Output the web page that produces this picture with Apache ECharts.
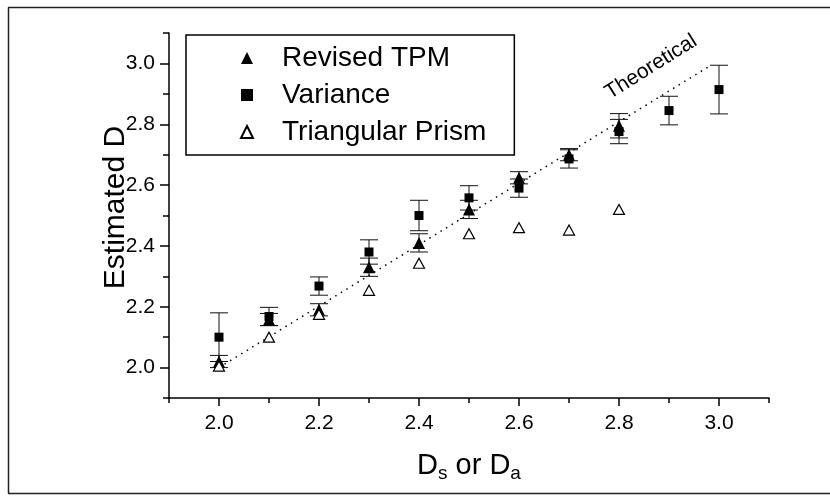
<!DOCTYPE html>
<html>
<head>
<meta charset="utf-8">
<script src="https://cdn.jsdelivr.net/npm/echarts@6/dist/echarts.min.js"></script>
<style>
  html, body { margin: 0; padding: 0; background: #fff; }
  #chart { width: 830px; height: 496px; }
</style>
</head>
<body>
<div id="chart"></div>
<script>
// x positions (D_s or D_a)
const xTpm = [2.0, 2.1, 2.2, 2.3, 2.4, 2.5, 2.6, 2.7, 2.8]
const xVar = [2.0, 2.1, 2.2, 2.3, 2.4, 2.5, 2.6, 2.7, 2.8, 2.9, 3.0]
const xPrism = [2.0, 2.1, 2.2, 2.3, 2.4, 2.5, 2.6, 2.7, 2.8]

// estimated D values and half error bars
const tpmMean = [2.02, 2.158, 2.19, 2.33, 2.41, 2.52, 2.624, 2.70, 2.795]
const tpmErr = [0.02, 0.02, 0.02, 0.03, 0.03, 0.03, 0.02, 0.02, 0.04]
const varMean = [2.10, 2.168, 2.268, 2.38, 2.50, 2.558, 2.59, 2.686, 2.776, 2.845, 2.914]
const varErr = [0.08, 0.03, 0.03, 0.04, 0.05, 0.04, 0.03, 0.03, 0.04, 0.047, 0.08]
const prismMean = [2.005, 2.10, 2.175, 2.254, 2.343, 2.44, 2.46, 2.452, 2.52]

// theoretical line end points
const theoX = [2.0, 2.98]
const theoY = [2.0, 2.99]

// tick labels
const majorTicks = [2.0, 2.2, 2.4, 2.6, 2.8, 3.0]

const FONT = 'Liberation Sans, Arial, sans-serif'

const pairs = (xs, ys) => xs.map((x, i) => [x, ys[i]])
const triples = (xs, ys, es) => xs.map((x, i) => [x, ys[i], es[i]])

// error bar drawing
function renderErrorBar(params, api) {
  const x = api.value(0)
  const m = api.value(1)
  const e = api.value(2)
  const top = api.coord([x, m + e])
  const bot = api.coord([x, m - e])
  const hw = 9
  const style = { stroke: '#111', lineWidth: 1 }
  return {
    type: 'group',
    children: [
      { type: 'line', shape: { x1: top[0], y1: top[1], x2: bot[0], y2: bot[1] }, style },
      { type: 'line', shape: { x1: top[0] - hw, y1: top[1], x2: top[0] + hw, y2: top[1] }, style },
      { type: 'line', shape: { x1: bot[0] - hw, y1: bot[1], x2: bot[0] + hw, y2: bot[1] }, style }
    ]
  }
}

const axisCommon = {
  type: 'value',
  min: 1.9,
  max: 3.1,
  interval: 0.1,
  splitLine: { show: false }
}

const chart = echarts.init(document.getElementById('chart'))

const option = {
  animation: false,
  backgroundColor: '#fff',
  textStyle: { fontFamily: FONT, color: '#000' },
  grid: { left: 169, right: 61, top: 33, bottom: 98 },
  legend: {
    left: 186,
    top: 35,
    orient: 'vertical',
    data: ['Revised TPM', 'Variance', 'Triangular Prism'],
    itemWidth: 12,
    itemHeight: 12,
    itemGap: 7,
    padding: [8, 28, 8, 54],
    borderColor: '#000',
    borderWidth: 1.5,
    borderRadius: 0,
    selectedMode: false,
    formatter: (name) => '{g|}' + name,
    textStyle: {
      fontFamily: FONT,
      fontSize: 28,
      color: '#000',
      lineHeight: 30,
      rich: { g: { width: 24 } }
    }
  },
  xAxis: [
    {
      ...axisCommon,
      position: 'bottom',
      axisLine: { lineStyle: { color: '#000', width: 1.5 } },
      axisTick: { length: 5, lineStyle: { color: '#000', width: 1.5 } },
      axisLabel: { show: false },
      name: '{m|D}{s|s}{m| or D}{s|a}',
      nameLocation: 'middle',
      nameGap: 52,
      nameTextStyle: {
        rich: {
          m: { fontFamily: FONT, fontSize: 29, color: '#000', lineHeight: 32 },
          s: { fontFamily: FONT, fontSize: 19, color: '#000', lineHeight: 19, padding: [15, 0, 0, 0] }
        }
      }
    },
    {
      ...axisCommon,
      position: 'bottom',
      axisLine: { show: false },
      axisTick: { customValues: majorTicks, length: 8, lineStyle: { color: '#000', width: 1.5 } },
      axisLabel: {
        customValues: majorTicks,
        margin: 15,
        fontFamily: FONT,
        fontSize: 21,
        color: '#000',
        formatter: (v) => v.toFixed(1)
      }
    }
  ],
  yAxis: [
    {
      ...axisCommon,
      position: 'left',
      axisLine: { show: true, lineStyle: { color: '#000', width: 1.5 } },
      axisTick: { show: true, length: 6, lineStyle: { color: '#000', width: 1.5 } },
      axisLabel: { show: false },
      name: 'Estimated D',
      nameLocation: 'middle',
      nameGap: 38,
      nameTextStyle: { fontFamily: FONT, fontSize: 30, color: '#000', padding: [0, 0, 0, 16] }
    },
    {
      ...axisCommon,
      position: 'left',
      axisLine: { show: false },
      axisTick: { show: true, customValues: majorTicks, length: 9, lineStyle: { color: '#000', width: 1.5 } },
      axisLabel: {
        customValues: majorTicks,
        margin: 14,
        fontFamily: FONT,
        fontSize: 21,
        color: '#000',
        formatter: (v) => v.toFixed(1)
      }
    }
  ],
  graphic: [
    // outer frame (left, top, bottom)
    { type: 'line', shape: { x1: 8.5, y1: 7.5, x2: 8.5, y2: 493.5 }, style: { stroke: '#222', lineWidth: 1.5 } },
    { type: 'line', shape: { x1: 8, y1: 7.5, x2: 830, y2: 7.5 }, style: { stroke: '#222', lineWidth: 1.5 } },
    { type: 'line', shape: { x1: 8, y1: 493.5, x2: 830, y2: 493.5 }, style: { stroke: '#222', lineWidth: 1.5 } },
    {
      type: 'text',
      x: 651,
      y: 67,
      rotation: 32 * Math.PI / 180,
      style: {
        text: 'Theoretical',
        fontFamily: FONT,
        fontSize: 21,
        fill: '#000',
        align: 'center',
        verticalAlign: 'middle'
      }
    }
  ],
  series: [
    {
      name: 'Theoretical',
      type: 'line',
      data: pairs(theoX, theoY),
      symbol: 'none',
      silent: true,
      lineStyle: { color: '#000', width: 1.5, type: [1.5, 5] },
      z: 1
    },
    {
      name: 'TPM error',
      type: 'custom',
      renderItem: renderErrorBar,
      data: triples(xTpm, tpmMean, tpmErr),
      z: 2
    },
    {
      name: 'Variance error',
      type: 'custom',
      renderItem: renderErrorBar,
      data: triples(xVar, varMean, varErr),
      z: 2
    },
    {
      name: 'Variance',
      type: 'scatter',
      symbol: 'rect',
      symbolSize: 9,
      itemStyle: { color: '#000', opacity: 1 },
      data: pairs(xVar, varMean),
      z: 3
    },
    {
      name: 'Revised TPM',
      type: 'scatter',
      symbol: 'triangle',
      symbolSize: 12,
      itemStyle: { color: '#000', opacity: 1 },
      data: pairs(xTpm, tpmMean),
      z: 4
    },
    {
      name: 'Triangular Prism',
      type: 'scatter',
      symbol: 'triangle',
      symbolSize: [11, 10],
      itemStyle: { color: '#fff', borderColor: '#000', borderWidth: 1.2, opacity: 1 },
      data: pairs(xPrism, prismMean),
      z: 5
    }
  ]
}

chart.setOption(option)
</script>
</body>
</html>
